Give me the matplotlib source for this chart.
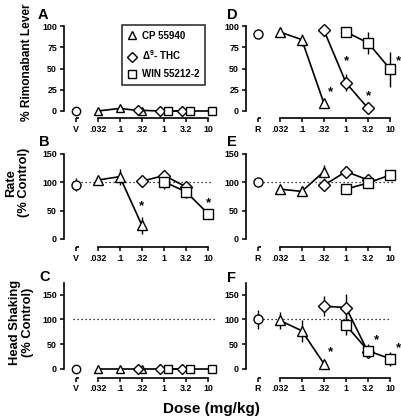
import numpy as np
import matplotlib.pyplot as plt
from matplotlib.lines import Line2D

plt.rcParams['font.family'] = ['Liberation Sans', 'DejaVu Sans']
plt.rcParams['font.weight'] = 'bold'
plt.rcParams['mathtext.fontset'] = 'custom'
plt.rcParams['mathtext.rm'] = 'Liberation Sans'
plt.rcParams['mathtext.bf'] = 'Liberation Sans:bold'
plt.rcParams['mathtext.default'] = 'bf'

#%% data
dose_labels = ['.032', '.1', '.32', '1', '3.2', '10']
cp_pos = [1, 2, 3]
thc_pos = [3, 4, 5]
win_pos = [4, 5, 6]

# A: % rimonabant lever, vehicle
veh_A = 0
cp_A = [0, 3, 0]
thc_A = [1, 0, 0]
win_A = [0, 0, 0]
# D: % rimonabant lever, after rimonabant
rim_D = 91
cp_D, cp_D_err = [93, 84, 9], [0, 7, 0]
thc_D, thc_D_err = [95, 33, 3], [0, 10, 0]
win_D, win_D_err = [93, 80, 49], [0, 13, 21]

# B: rate, vehicle
veh_B, veh_B_err = 96, 12
cp_B, cp_B_err = [104, 110, 24], [0, 14, 15]
thc_B, thc_B_err = [102, 112, 92], [10, 6, 6]
win_B, win_B_err = [101, 83, 44], [12, 10, 0]
# E: rate, after rimonabant
rim_E = 100
cp_E, cp_E_err = [88, 84, 119], [0, 9, 12]
thc_E, thc_E_err = [95, 119, 104], [10, 10, 6]
win_E, win_E_err = [88, 99, 113], [0, 8, 0]

# C: head shaking, vehicle
veh_C = 0
cp_C = [0, 0, 0]
thc_C = [0, 0, 0]
win_C = [0, 0, 0]
# F: head shaking, after rimonabant
rim_F, rim_F_err = 100, 20
cp_F, cp_F_err = [98, 77, 10], [18, 22, 0]
thc_F, thc_F_err = [127, 124, 33], [20, 28, 0]
win_F, win_F_err = [88, 36, 20], [20, 15, 14]

#%% plotting helpers
W, H = 401, 420
fig = plt.figure(figsize=(W / 100, H / 100), dpi=100)


def make_ax(left_px, bottom_px, top_px, ylim, ytop, yticks, ctrl):
    ax = fig.add_axes([left_px / W, 1 - bottom_px / H,
                       151 / W, (bottom_px - top_px) / H])
    ax.set_xlim(-0.52, 6.3)
    ax.set_ylim(*ylim)
    for s in ['top', 'right']:
        ax.spines[s].set_visible(False)
    ax.spines['left'].set_bounds(0, ytop)
    ax.spines['bottom'].set_bounds(1, 6)
    for s in ['left', 'bottom']:
        ax.spines[s].set_linewidth(1.2)
    ax.set_yticks(yticks)
    ax.set_xticks(range(7))
    ax.set_xticklabels([ctrl] + dose_labels)
    ax.tick_params(direction='out', length=3, width=1.1, labelsize=6.4, pad=2)
    # short axis piece under the control point
    ax.plot([0, 0.18], [0, 0], color='k', lw=1.2, clip_on=False,
            transform=ax.get_xaxis_transform(), solid_capstyle='butt')
    return ax


def series(ax, pos, vals, errs, marker, ms, shift=0.0):
    x = np.array(pos) + shift
    ax.plot(x, vals, '-', color='k', lw=1.2, zorder=2)
    if errs is not None:
        ax.errorbar(x, vals, yerr=errs, fmt='none', ecolor='k',
                    elinewidth=1, capsize=0, zorder=2)
    ax.plot(x, vals, marker, ls='none', ms=ms, mfc='w', mec='k', mew=1,
            zorder=3, clip_on=False)


def control(ax, val, err, ms):
    if err:
        ax.errorbar([0], [val], yerr=[err], fmt='none', ecolor='k',
                    elinewidth=1, capsize=0, zorder=2)
    ax.plot([0], [val], 'o', ms=ms, mfc='w', mec='k', mew=1, zorder=3,
            clip_on=False)


def dotted(ax, xr=6.2):
    ax.plot([-0.1, xr], [100, 100], ls=(0, (1, 2.2)), color='k', lw=0.9,
            zorder=1)


def star(ax, x, y, dx, dy):
    ax.annotate('*', (x, y), xytext=(dx, dy), textcoords='offset points',
                ha='center', va='center', fontsize=9.5, fontweight='bold')


#%% panels
axA = make_ax(64, 117.8, 22.6, (-8, 104), 100, [0, 25, 50, 75, 100], 'V')
control(axA, veh_A, 0, 6)
series(axA, cp_pos, cp_A, None, '^', 6)
series(axA, thc_pos, thc_A, None, 'D', 5, -0.2)
series(axA, win_pos, win_A, None, 's', 5.5, 0.17)

axD = make_ax(246, 117.8, 22.6, (-8, 104), 100, [0, 25, 50, 75, 100], 'R')
control(axD, rim_D, 0, 6.5)
series(axD, cp_pos, cp_D, cp_D_err, '^', 7)
series(axD, thc_pos, thc_D, thc_D_err, 'D', 6)
series(axD, win_pos, win_D, win_D_err, 's', 7)
star(axD, cp_pos[2], cp_D[2], 5, 8)
star(axD, thc_pos[1], thc_D[1], 0, 16)
star(axD, thc_pos[2], thc_D[2], 0, 9)
star(axD, win_pos[2], win_D[2], 5.5, 6)

axB = make_ax(64, 246.9, 152.3, (-14, 153), 150, [0, 50, 100, 150], 'V')
dotted(axB)
control(axB, veh_B, veh_B_err, 6.5)
series(axB, cp_pos, cp_B, cp_B_err, '^', 7)
series(axB, thc_pos, thc_B, thc_B_err, 'D', 6)
series(axB, win_pos, win_B, win_B_err, 's', 7)
star(axB, cp_pos[2], cp_B[2], 0, 14)
star(axB, win_pos[2], win_B[2], 0, 8)

axE = make_ax(246, 246.9, 152.3, (-14, 153), 150, [0, 50, 100, 150], 'R')
dotted(axE)
control(axE, rim_E, 0, 6.5)
series(axE, cp_pos, cp_E, cp_E_err, '^', 7)
series(axE, thc_pos, thc_E, thc_E_err, 'D', 6)
series(axE, win_pos, win_E, win_E_err, 's', 7)

axC = make_ax(64, 377.5, 282.5, (-18, 175), 175, [0, 50, 100, 150], 'V')
dotted(axC, 6.4)
control(axC, veh_C, 0, 6)
series(axC, cp_pos, cp_C, None, '^', 6)
series(axC, thc_pos, thc_C, None, 'D', 5, -0.2)
series(axC, win_pos, win_C, None, 's', 5.5, 0.17)

axF = make_ax(246, 377.5, 282.5, (-18, 175), 175, [0, 50, 100, 150], 'R')
dotted(axF, 6.0)
control(axF, rim_F, rim_F_err, 6.5)
series(axF, cp_pos, cp_F, cp_F_err, '^', 7)
series(axF, thc_pos, thc_F, thc_F_err, 'D', 6)
series(axF, win_pos, win_F, win_F_err, 's', 7)
star(axF, cp_pos[2], cp_F[2], 5, 8)
star(axF, win_pos[1], win_F[1], 6, 8)
star(axF, win_pos[2], win_F[2], 5.5, 8)

#%% labels
for ax, lab, fs, (lx, ly) in [
        (axA, '% Rimonabant Lever', 8.6, (-0.205, 0.58)),
        (axB, 'Rate\n(% Control)', 9.3, (-0.225, 0.68)),
        (axC, 'Head Shaking\n(% Control)', 9.3, (-0.2, 0.58))]:
    ax.set_ylabel(lab, fontsize=fs, fontweight='bold', linespacing=1.1)
    ax.yaxis.set_label_coords(lx, ly)

for txt, x, y in [('A', 38, 8), ('B', 39, 135), ('C', 39, 270),
                  ('D', 227, 8), ('E', 227, 135), ('F', 227, 271)]:
    fig.text(x / W, 1 - y / H, txt, fontsize=10.5, fontweight='bold',
             ha='left', va='top')

fig.text(211 / W, 1 - 409 / H, 'Dose (mg/kg)', fontsize=11,
         fontweight='bold', ha='center', va='center')

handles = [Line2D([], [], marker='^', ls='none', ms=6, mfc='w', mec='k'),
           Line2D([], [], marker='D', ls='none', ms=5, mfc='w', mec='k'),
           Line2D([], [], marker='s', ls='none', ms=5.5, mfc='w', mec='k')]
leg = fig.legend(handles, ['CP 55940', r'$\mathregular{\Delta^9}$- THC',
                           'WIN 55212-2'],
                 loc='upper left', bbox_to_anchor=(121.5 / W, 1 - 25 / H),
                 frameon=True, fancybox=False, edgecolor='k', fontsize=7,
                 handlelength=1, handletextpad=0.5, labelspacing=0.75,
                 borderpad=0.6, borderaxespad=0)
leg.get_frame().set_linewidth(1.2)
for t in leg.get_texts():
    t.set_fontweight('bold')

plt.savefig('out.png', dpi=100)
